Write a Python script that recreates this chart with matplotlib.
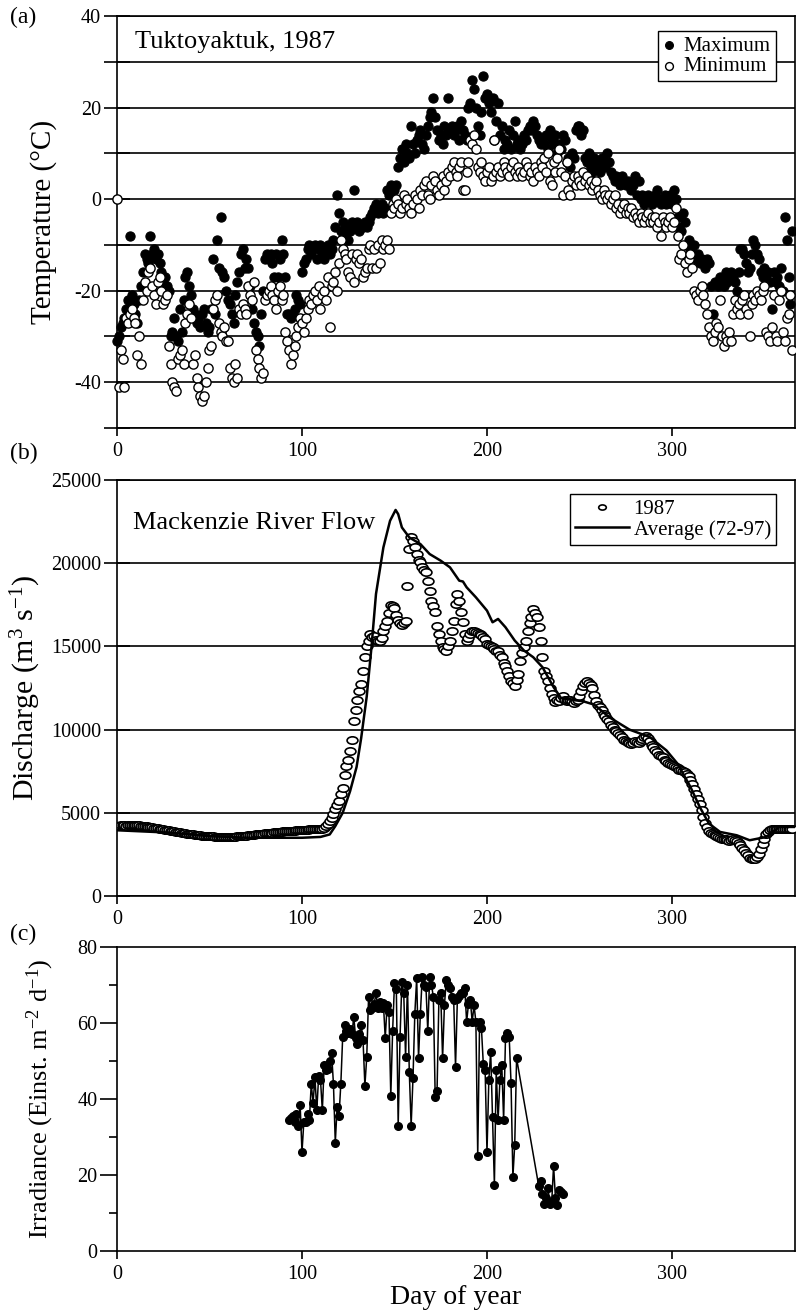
"""
Tuktoyaktuk 1987: air temperature, Mackenzie River discharge and irradiance
"""

import matplotlib
matplotlib.use('Agg')
import matplotlib.pyplot as plt
from matplotlib.path import Path
from matplotlib.transforms import Affine2D
import numpy as np

plt.rcParams['font.family'] = ['Liberation Serif', 'DejaVu Serif']
plt.rcParams['mathtext.fontset'] = 'custom'
plt.rcParams['mathtext.rm'] = 'Liberation Serif'
plt.rcParams['mathtext.it'] = 'Liberation Serif:italic'
plt.rcParams['axes.unicode_minus'] = False

# ---------------------------------------------------------------------------
# (a) daily air temperature, day 0..365
# ---------------------------------------------------------------------------
temp_days = np.arange(0, 366)

t_max = [
    -31, -30, -28, -27, -26, -24, -22, -8, -21, -23,
    -25, -27, -22, -19, -16, -12, -13, -14, -8, -12,
    -11, -13, -12, -14, -16, -18, -17, -19, -20, -30,
    -29, -26, -30, -31, -24, -29, -22, -17, -16, -19,
    -21, -24, -25, -27, -26, -28, -25, -24, -27, -29,
    -28, -24, -13, -25, -9, -15, -4, -16, -17, -20,
    -22, -23, -25, -27, -21, -18, -16, -12, -11, -15,
    -13, -15, -19, -24, -27, -29, -30, -32, -25, -20,
    -13, -12, -13, -12, -14, -17, -12, -17, -13, -9,
    -12, -17, -25, -25, -26, -25, -24, -21, -22, -23,
    -16, -14, -13, -11, -10, -12, -11, -10, -13, -11,
    -10, -12, -13, -11, -10, -12, -11, -9, -6, 1,
    -3, -7, -5, -8, -6, -9, -7, -5, 2, -6,
    -5, -7, -6, -6, -5, -6, -5, -4, -3, -2,
    -1, -3, -2, -1, -3, -2, 2, 1, 3, 2,
    2, 3, 7, 9, 11, 8, 12, 10, 9, 16,
    12, 10, 13, 14, 15, 12, 11, 14, 16, 18,
    19, 22, 18, 15, 13, 14, 12, 16, 14, 22,
    15, 16, 14, 15, 16, 13, 17, 15, 14, 13,
    20, 21, 26, 24, 20, 16, 14, 19, 27, 22,
    23, 21, 19, 22, 13, 17, 21, 14, 16, 11,
    13, 12, 15, 11, 14, 17, 12, 13, 11, 12,
    14, 13, 15, 16, 15, 17, 16, 14, 13, 12,
    13, 12, 14, 11, 15, 13, 12, 14, 10, 12,
    11, 14, 13, 8, 9, 7, 10, 9, 15, 16,
    16, 14, 15, 9, 8, 10, 7, 6, 9, 8,
    7, 6, 9, 8, 7, 10, 8, 6, 5, 4,
    5, 4, 3, 5, 4, 3, 4, 3, 2, 3,
    5, 1, 4, 0, 1, -1, 0, 1, 0, -1,
    0, 1, 2, 0, -1, 0, 1, -1, 0, 1,
    -1, 2, 0, -4, -6, -7, -3, -5, -10, -9,
    -11, -12, -10, -13, -12, -14, -13, -14, -15, -13,
    -14, -19, -25, -18, -29, -19, -17, -18, -19, -16,
    -18, -17, -16, -17, -18, -20, -16, -11, -11, -12,
    -14, -16, -15, -12, -9, -10, -12, -13, -16, -17,
    -15, -17, -16, -18, -24, -16, -18, -17, -19, -15,
    -20, -4, -9, -17, -23, -7,
]

t_min = [
    0, -41, -33, -35, -41, -26, -27, -25, -24, -26,
    -27, -34, -30, -36, -22, -18, -20, -16, -15, -19,
    -21, -23, -18, -17, -20, -23, -22, -21, -32, -36,
    -40, -41, -42, -35, -34, -33, -36, -27, -25, -23,
    -26, -36, -34, -39, -41, -43, -44, -43, -40, -37,
    -33, -32, -24, -22, -21, -27, -29, -30, -28, -31,
    -31, -37, -39, -40, -36, -39, -24, -25, -23, -24,
    -25, -19, -21, -22, -18, -33, -35, -37, -39, -38,
    -22, -21, -20, -19, -21, -22, -24, -20, -19, -22,
    -21, -29, -31, -33, -36, -34, -32, -30, -28, -26,
    -27, -29, -26, -24, -22, -23, -21, -20, -22, -19,
    -24, -21, -20, -22, -17, -28, -19, -18, -16, -20,
    -14, -9, -11, -12, -13, -16, -17, -12, -18, -13,
    -12, -14, -13, -17, -16, -15, -11, -10, -15, -11,
    -15, -10, -14, -9, -11, -10, -9, -11, -3, -1,
    -2, 0, -1, -3, -2, 1, -1, 0, -2, -3,
    -1, 1, 0, -2, 2, 1, 3, 4, 1, 0,
    3, 5, 4, 2, 1, 3, 5, 2, 4, 6,
    5, 7, 8, 6, 5, 7, 8, 2, 2, 6,
    8, 13, 12, 14, 11, 7, 6, 8, 5, 4,
    6, 7, 4, 5, 13, 6, 7, 5, 6, 8,
    7, 6, 5, 7, 8, 6, 5, 7, 6, 5,
    6, 8, 7, 5, 6, 4, 7, 6, 5, 8,
    7, 9, 6, 10, 4, 3, 8, 6, 9, 11,
    6, 1, 5, 8, 2, 1, 4, 5, 3, 5,
    4, 3, 6, 4, 5, 3, 4, 2, 3, 4,
    2, 1, 0, 2, 1, 0, 1, -1, 0, 1,
    -2, -1, -3, -2, -1, -3, -2, -3, -2, -4,
    -3, -4, -5, -3, -4, -5, -4, -3, -5, -4,
    -5, -4, -6, -5, -8, -4, -5, -6, -5, -4,
    -6, -5, -2, -8, -13, -12, -10, -14, -16, -13,
    -12, -15, -20, -21, -22, -20, -19, -21, -23, -25,
    -28, -30, -31, -29, -27, -28, -22, -30, -32, -30,
    -31, -29, -31, -25, -22, -24, -23, -25, -22, -21,
    -24, -25, -30, -23, -21, -22, -20, -21, -22, -20,
    -19, -29, -30, -31, -28, -21, -30, -31, -22, -20,
    -29, -31, -26, -25, -21, -33,
]

# ---------------------------------------------------------------------------
# (b) Mackenzie River discharge (m3/s)
# ---------------------------------------------------------------------------
flow_days = np.arange(0, 366)
flow_1987 = [
    4200, 4220, 4250, 4250, 4240, 4230, 4250, 4260, 4250, 4240,
    4250, 4260, 4250, 4230, 4200, 4200, 4180, 4150, 4150, 4120,
    4100, 4080, 4070, 4050, 4020, 4000, 3990, 3960, 3950, 3920,
    3900, 3890, 3860, 3850, 3820, 3800, 3790, 3760, 3750, 3720,
    3710, 3700, 3680, 3670, 3650, 3640, 3620, 3610, 3600, 3600,
    3590, 3580, 3580, 3570, 3570, 3560, 3560, 3560, 3550, 3550,
    3550, 3560, 3560, 3570, 3570, 3580, 3580, 3590, 3600, 3610,
    3620, 3640, 3650, 3660, 3680, 3700, 3710, 3720, 3740, 3750,
    3760, 3780, 3790, 3800, 3810, 3820, 3840, 3850, 3860, 3870,
    3880, 3890, 3900, 3900, 3910, 3920, 3930, 3940, 3950, 3950,
    3960, 3970, 3980, 3990, 4000, 4000, 4010, 4020, 4020, 4030,
    4000, 4050, 4100, 4200, 4350, 4500, 4700, 4900, 5200, 5450,
    5700, 6100, 6500, 7300, 7800, 8150, 8700, 9350, 10500, 11200,
    11750, 12300, 12750, 13550, 14350, 15000, 15350, 15750, 15550, 15600,
    15400, 15300, 15300, 15500, 15900, 16200, 16500, 17000, 17500, 17400,
    17300, 16900, 16600, 16400, 16300, 16400, 16500, 18600, 20850, 21550,
    21350, 21000, 20550, 20200, 20050, 19750, 19600, 19450, 18950, 18350,
    17750, 17400, 17050, 16250, 15750, 15350, 14950, 14850, 14750, 15000,
    15350, 15950, 16550, 17550, 18150, 17750, 17050, 16450, 15750, 15350,
    15500, 15750, 15950, 15900, 15850, 15800, 15750, 15700, 15550, 15450,
    15150, 15100, 15000, 14950, 14850, 14750, 14700, 14500, 14350, 14000,
    13800, 13550, 13200, 12950, 12800, 12650, 13000, 13350, 14150, 14600,
    14950, 15350, 15950, 16400, 16750, 17250, 17000, 16750, 16150, 15350,
    14350, 13550, 13200, 12950, 12500, 12150, 11900, 11650, 11800, 11700,
    11900, 12000, 11800, 11700, 11750, 11800, 11700, 11600, 11700, 11800,
    12000, 12300, 12600, 12800, 12900, 12800, 12700, 12500, 12100, 11700,
    11450, 11350, 11150, 10950, 10800, 10650, 10500, 10300, 10150, 10000,
    9900, 9800, 9700, 9550, 9400, 9300, 9250, 9200, 9150, 9200,
    9300, 9250, 9200, 9300, 9450, 9550, 9600, 9500, 9300, 9100,
    8950, 8800, 8650, 8500, 8400, 8350, 8200, 8100, 8000, 7950,
    7900, 7800, 7750, 7700, 7600, 7550, 7500, 7450, 7350, 7200,
    7000, 6750, 6450, 6150, 5850, 5550, 5150, 4750, 4400, 4150,
    3900, 3800, 3700, 3650, 3600, 3550, 3500, 3450, 3400, 3400,
    3350, 3300, 3350, 3400, 3350, 3300, 3200, 3050, 2900, 2750,
    2600, 2450, 2300, 2250, 2200, 2250, 2350, 2550, 2800, 3100,
    3450, 3700, 3850, 3950, 4000, 4000, 4000, 4000, 4000, 4000,
    4000, 4000, 4000, 4000, 4000, 4000,
]

avg_days = [0, 10, 20, 30, 40, 50, 60, 70, 80, 90, 100, 110, 115, 118, 122,
            126, 129.5, 132, 135, 137.6, 140, 144, 147.6, 150.6, 152, 154,
            158, 164, 169, 175, 180, 185, 187, 189, 194, 200, 203, 206, 210,
            215, 220, 225, 230, 236, 240, 245, 252, 258, 266, 277, 288, 297,
            303, 310, 315, 320, 326, 335, 342, 351, 358, 366]
avg_flow = [3950, 3900, 3850, 3800, 3700, 3600, 3550, 3500, 3500, 3500, 3500,
            3550, 3700, 4200, 5000, 6300, 7750, 9500, 12000, 15000, 18150,
            20950, 22550, 23200, 22950, 22150, 21550, 21150, 20550, 20150,
            19750, 18950, 18900, 18550, 17950, 17150, 16450, 16650, 16150,
            15350, 14750, 14350, 13750, 12550, 11900, 11800, 11700, 11500,
            10750, 10000, 9550, 8750, 7950, 6550, 5350, 4350, 3850, 3650,
            3350, 3550, 4150, 4150]

# ---------------------------------------------------------------------------
# (c) daily irradiance (Einst m-2 d-1)
# ---------------------------------------------------------------------------
irr_days = [
    93, 94, 95, 96, 97, 98, 99, 100, 101, 102, 103, 104, 105, 106, 107, 108,
    109, 110, 111, 112, 113, 114, 115, 116, 117, 118, 119, 120, 121, 122,
    123, 124, 125, 126, 127, 128, 129, 130, 131, 132, 133, 134, 135, 136,
    137, 138, 139, 140, 141, 142, 143, 144, 145, 146, 147, 148, 149, 150,
    151, 152, 153, 154, 155, 156, 157, 158, 159, 160, 161, 162, 163, 164,
    165, 166, 167, 168, 169, 170, 171, 172, 173, 174, 175, 176, 177, 178,
    179, 180, 181, 182, 183, 184, 185, 186, 187, 188, 189, 190, 191, 192,
    193, 194, 195, 196, 197, 198, 199, 200, 201, 202, 203, 204, 205, 206,
    207, 208, 209, 210, 211, 212, 213, 214, 215, 216, 228, 229, 230, 231,
    232, 233, 234, 235, 236, 237, 238, 239, 240, 241,
]
irradiance = [
    34.5, 35, 35.5, 34, 36, 33, 38.5, 26, 34, 33.9, 36, 34.5, 44, 39, 45.7, 37,
    46, 45, 37, 49, 47.6, 48, 50, 52, 44, 28.5, 38, 35.5, 44, 56.4,
    59.4, 58, 57.5, 58.5, 57, 61.7, 56, 54.5, 57, 59.5, 55.5, 43.5, 51, 66.9,
    63.4, 64, 65, 67.8, 64, 65.6, 64, 65.2, 56, 64.7, 63, 40.8, 58, 70.4,
    69, 33, 56.4, 70.9, 67.8, 51, 70, 47.2, 33, 45.5, 62.5, 71.8, 50.7, 62.5,
    72.2, 70, 69.6, 57.8, 72.2, 70, 66.9, 40.6, 42, 66, 67.8, 50.7, 64.7, 71.3,
    70, 69.1, 66.9, 66, 48.5, 66.4, 67, 67.8, 68, 69.1, 60.3, 65, 66, 60.3,
    64.7, 60.3, 25, 60.3, 58.6, 49.3, 47.6, 26, 45, 52.5, 35.3, 17.5, 47.6, 34.5,
    45, 48.9, 34.5, 56, 57.3, 56.4, 44.2, 19.5, 28, 50.7, 17, 18.5, 15, 12.5,
    14, 16.5, 12.5, 13, 22.5, 14, 12, 16, 15.5, 15,
]

# ---------------------------------------------------------------------------
# Figure
# ---------------------------------------------------------------------------
W, H = 796, 1315
fig = plt.figure(figsize=(W / 100, H / 100), dpi=100)

def px_axes(left, top, right, bottom):
    return fig.add_axes([left / W, 1 - bottom / H, (right - left) / W, (bottom - top) / H])

ax_a = px_axes(117, 16, 795, 428)
ax_b = px_axes(117, 480, 795, 896)
ax_c = px_axes(117, 947, 795, 1251)

TICK_FS = 14.5
LABEL_FS = 20
LW = 1.2

for ax in (ax_a, ax_b, ax_c):
    ax.set_xlim(0, 366.5)
    ax.set_xticks([0, 100, 200, 300])
    for s in ax.spines.values():
        s.set_linewidth(LW)
        s.set_color('black')
    ax.tick_params(axis='x', direction='out', length=6, width=LW, labelsize=TICK_FS, pad=4)
    ax.set_axisbelow(True)

# (a) temperature
ax_a.set_ylim(-50, 40)
ax_a.set_yticks([-40, -20, 0, 20, 40])
ax_a.set_yticks(np.arange(-50, 40, 10), minor=True)
ax_a.tick_params(axis='y', which='both', direction='inout', length=19, width=LW,
                 labelsize=TICK_FS, pad=2)
ax_a.grid(True, axis='y', which='both', color='black', linewidth=LW)
ax_a.scatter(temp_days, t_max, s=44, c='black', edgecolors='black',
             linewidths=0.8, label='Maximum', zorder=3, clip_on=False)
ax_a.scatter(temp_days, t_min, s=44, c='white', edgecolors='black',
             linewidths=1.0, label='Minimum', zorder=3, clip_on=False)
ax_a.set_ylabel('Temperature (\u00b0C)', fontsize=21)
ax_a.yaxis.set_label_coords(-0.088, 0.5)
ax_a.text(0.027, 0.937, 'Tuktoyaktuk, 1987', transform=ax_a.transAxes,
          fontsize=19, va='center', ha='left')
leg_a = ax_a.legend(loc='upper right', bbox_to_anchor=(0.972, 0.964), fontsize=15,
                    frameon=True, fancybox=False, edgecolor='black', framealpha=1,
                    handlelength=0.6, handletextpad=0.4, borderpad=0.25,
                    labelspacing=0.05, markerscale=0.85, borderaxespad=0)
leg_a.get_frame().set_linewidth(1.0)

# (b) discharge
ellipse = Path.unit_circle().transformed(Affine2D().scale(1.0, 0.68))
ax_b.set_ylim(0, 25000)
ax_b.set_yticks(np.arange(0, 25001, 5000))
ax_b.tick_params(axis='y', direction='inout', length=19, width=LW,
                 labelsize=TICK_FS, pad=2)
ax_b.grid(True, axis='y', color='black', linewidth=LW)
ax_b.plot(flow_days, flow_1987, linestyle='none', marker=ellipse, markersize=7.8,
          markerfacecolor='white', markeredgecolor='black', markeredgewidth=1.2,
          label='1987', zorder=3)
ax_b.plot(avg_days, avg_flow, color='black', linewidth=1.8,
          label='Average (72-97)', zorder=4)
ax_b.set_ylabel(r'Discharge (m$^{3}$ s$^{-1}$)', fontsize=21.5)
ax_b.yaxis.set_label_coords(-0.109, 0.5)
ax_b.text(0.023, 0.897, 'Mackenzie River Flow', transform=ax_b.transAxes,
          fontsize=19, va='center', ha='left')
leg_b = ax_b.legend(loc='upper right', bbox_to_anchor=(0.972, 0.966), fontsize=15,
                    frameon=True, fancybox=False, edgecolor='black', framealpha=1,
                    handlelength=2.6, handletextpad=0.2, borderpad=0.25,
                    labelspacing=0.05, markerscale=0.7, borderaxespad=0)
leg_b.get_frame().set_linewidth(1.0)

# (c) irradiance
ax_c.set_ylim(0, 80)
ax_c.set_yticks(np.arange(0, 81, 20))
ax_c.set_yticks(np.arange(10, 80, 20), minor=True)
ax_c.tick_params(axis='y', which='major', direction='out', length=12, width=LW,
                 labelsize=TICK_FS, pad=2)
ax_c.tick_params(axis='y', which='minor', direction='out', length=6, width=LW)
ax_c.plot(irr_days, irradiance, color='black', linewidth=1.1, marker='o',
          markersize=5.5, markerfacecolor='black', markeredgecolor='black')
ax_c.set_ylabel(r'Irradiance (Einst. m$^{-2}$ d$^{-1}$)', fontsize=19)
ax_c.yaxis.set_label_coords(-0.09, 0.5)
ax_c.set_xlabel('Day of year', fontsize=20, labelpad=1)

# panel letters
fig.text(10 / W, 1 - 17 / H, '(a)', fontsize=17, va='center', ha='left')
fig.text(10 / W, 1 - 453 / H, '(b)', fontsize=17, va='center', ha='left')
fig.text(10 / W, 1 - 934 / H, '(c)', fontsize=17, va='center', ha='left')

fig.savefig('out.png', dpi=100)
